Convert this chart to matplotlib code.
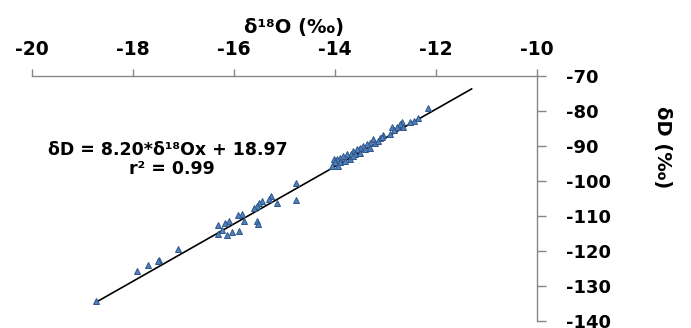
import numpy as np
import matplotlib
matplotlib.use("Agg")
import matplotlib.pyplot as plt

# isotope samples (delta 18O, delta D in permil)
d18o = [-18.73, -17.92, -17.70, -17.48, -17.50, -17.12,
        -14.77, -14.78, -15.27, -15.31, -15.16, -15.45, -15.50, -15.55, -15.61,
        -15.54, -15.53, -15.80, -15.85, -15.92, -16.10, -16.19, -16.31, -16.23,
        -16.31, -16.15, -16.04, -15.90,
        -12.16, -12.36, -12.44, -12.52, -12.68, -12.72, -12.78, -12.88, -12.84,
        -13.05, -13.11, -13.25, -13.31, -13.38, -13.44, -13.51, -13.57, -13.64,
        -13.69, -13.77, -13.84, -13.90, -13.97, -14.03, -14.00, -13.90, -13.81,
        -13.71, -13.61, -13.51, -13.41, -13.31, -13.21, -13.15, -13.08, -12.92,
        -13.94, -14.07, -13.64, -12.65]
dD = [-134.3, -125.6, -124.0, -122.6, -122.9, -119.4,
      -100.5, -105.4, -104.3, -105.0, -106.2, -105.7, -106.4, -107.1, -107.7,
      -111.4, -112.2, -111.4, -109.3, -109.7, -111.4, -111.9, -112.6, -114.1,
      -115.2, -115.4, -114.7, -114.2,
      -79.2, -82.1, -82.9, -83.2, -83.0, -83.8, -84.5, -84.7, -85.5,
      -86.9, -87.6, -88.1, -89.0, -89.5, -90.0, -90.7, -90.9, -91.4,
      -92.2, -92.4, -92.9, -93.3, -93.8, -93.8, -94.7, -94.7, -94.3,
      -93.8, -92.4, -91.9, -90.9, -90.5, -89.0, -88.6, -87.4, -86.7,
      -95.7, -95.7, -92.9, -84.6]

# linear trendline
slope = 8.20
intercept = 18.97
r2 = 0.99
trend_x = np.array([-18.75, -11.30])

xticks = [-20, -18, -16, -14, -12, -10]
yticks = [-70, -80, -90, -100, -110, -120, -130, -140]

W, H = 691, 328
fig = plt.figure(figsize=(W / 100, H / 100), dpi=100)
ax = fig.add_axes([32 / W, 1 - 321.0 / H, 505.3 / W, 245 / H])

fnt = {'family': 'DejaVu Sans', 'weight': 'bold'}
gray = '#868686'

ax.plot(trend_x, slope * trend_x + intercept, color='black', lw=1.2, zorder=2)
ax.plot(d18o, dD, linestyle='none', marker='^', markersize=5,
        markerfacecolor='#4F81BD', markeredgecolor='#2F5589', markeredgewidth=0.7,
        zorder=3)

ax.set_xlim(-20, -10)
ax.set_ylim(-140, -70)
ax.set_xticks(xticks)
ax.set_yticks(yticks)
ax.set_xticklabels([str(v) for v in xticks], fontdict=fnt, fontsize=13.5)
ax.set_yticklabels([str(v) for v in yticks], fontdict=fnt, fontsize=13)

ax.xaxis.tick_top()
ax.yaxis.tick_right()
ax.spines['left'].set_visible(False)
ax.spines['bottom'].set_visible(False)
for s in ['top', 'right']:
    ax.spines[s].set_color(gray)
    ax.spines[s].set_linewidth(1.0)
ax.tick_params(axis='x', direction='out', length=5, width=1, color=gray, pad=7)
ax.tick_params(axis='y', direction='out', length=6.5, width=1, color=gray, pad=14)

# axis titles
fig.text(294 / W, 1 - 27 / H, 'δ¹⁸O (‰)', ha='center', va='center',
         fontsize=14, **fnt)
fig.text(663 / W, 1 - 147 / H, 'δD (‰)', ha='center', va='center',
         rotation=270, fontsize=14, **fnt)

# equation label
fig.text(168 / W, 1 - 150 / H, 'δD = %.2f*δ¹⁸Ox + %.2f' % (slope, intercept),
         ha='center', va='center', fontsize=12.5, **fnt)
fig.text(172 / W, 1 - 168.5 / H, 'r² = %.2f' % r2,
         ha='center', va='center', fontsize=12.5, **fnt)

fig.savefig('out.png', dpi=100)
